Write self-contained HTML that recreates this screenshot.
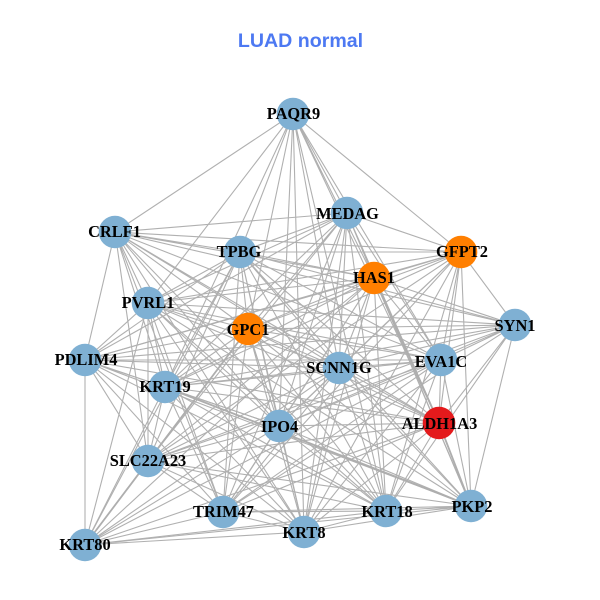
<!DOCTYPE html>
<html><head><meta charset="utf-8"><style>
html,body{margin:0;padding:0;background:#fff}
svg{display:block}
.l{font-family:"Liberation Serif",serif;font-weight:bold;font-size:16.4px;fill:#000;text-anchor:middle}
</style></head><body>
<svg width="600" height="600" viewBox="0 0 600 600" xmlns="http://www.w3.org/2000/svg">
<rect width="600" height="600" fill="#fff"/>
<text x="300.5" y="47" style="font-family:'Liberation Sans',sans-serif;font-weight:bold;font-size:19.6px;fill:#4d79f2;text-anchor:middle">LUAD normal</text>
<g fill="none" stroke="#b0b0b0" stroke-width="1.1">
<path d="M293 114L347 213M293 114L115 232M293 114L240 252M293 114L461 252M293 114L374 278M293 114L148 303M293 114L248 329M293 114L441 360M293 114L339 368M293 114L165 387M293 114L439 423M293 114L279 426M293 114L386 511M293 114L304 532"/>
<path d="M347 213L115 232M347 213L240 252M347 213L461 252M347 213L374 278M347 213L148 303M347 213L248 329M347 213L85 360M347 213L441 360M347 213L339 368M347 213L165 387M347 213L439 423M347 213L279 426M347 213L148 461M347 213L223 512M347 213L386 511M347 213L304 532M347 213L471 506"/>
<path d="M115 232L240 252M115 232L461 252M115 232L374 278M115 232L148 303M115 232L515 325M115 232L248 329M115 232L85 360M115 232L441 360M115 232L339 368M115 232L165 387M115 232L439 423M115 232L279 426M115 232L148 461M115 232L223 512M115 232L386 511M115 232L304 532"/>
<path d="M240 252L461 252M240 252L374 278M240 252L148 303M240 252L515 325M240 252L248 329M240 252L85 360M240 252L441 360M240 252L339 368M240 252L165 387M240 252L439 423M240 252L279 426M240 252L148 461M240 252L471 506M240 252L223 512M240 252L386 511M240 252L304 532M240 252L85 545"/>
<path d="M461 252L374 278M461 252L148 303M461 252L515 325M461 252L248 329M461 252L85 360M461 252L441 360M461 252L339 368M461 252L165 387M461 252L439 423M461 252L279 426M461 252L148 461M461 252L471 506M461 252L223 512M461 252L386 511M461 252L304 532"/>
<path d="M374 278L148 303M374 278L515 325M374 278L248 329M374 278L85 360M374 278L441 360M374 278L339 368M374 278L165 387M374 278L279 426M374 278L148 461M374 278L471 506M374 278L223 512M374 278L386 511M374 278L304 532M374 278L85 545"/>
<path d="M148 303L515 325M148 303L248 329M148 303L85 360M148 303L441 360M148 303L339 368M148 303L165 387M148 303L439 423M148 303L279 426M148 303L148 461M148 303L471 506M148 303L223 512M148 303L386 511M148 303L304 532M148 303L85 545"/>
<path d="M515 325L248 329M515 325L85 360M515 325L441 360M515 325L339 368M515 325L165 387M515 325L439 423M515 325L279 426M515 325L148 461M515 325L471 506M515 325L223 512M515 325L386 511"/>
<path d="M248 329L85 360M248 329L441 360M248 329L339 368M248 329L165 387M248 329L439 423M248 329L279 426M248 329L148 461M248 329L471 506M248 329L223 512M248 329L386 511M248 329L304 532"/>
<path d="M85 360L441 360M85 360L339 368M85 360L165 387M85 360L439 423M85 360L279 426M85 360L148 461M85 360L471 506M85 360L223 512M85 360L386 511M85 360L304 532M85 360L85 545"/>
<path d="M441 360L339 368M441 360L165 387M441 360L439 423M441 360L279 426M441 360L148 461M441 360L471 506M441 360L223 512M441 360L386 511M441 360L304 532M441 360L85 545"/>
<path d="M339 368L165 387M339 368L439 423M339 368L279 426M339 368L148 461M339 368L471 506M339 368L223 512M339 368L386 511M339 368L304 532M339 368L85 545"/>
<path d="M165 387L439 423M165 387L279 426M165 387L148 461M165 387L223 512M165 387L386 511M165 387L304 532M165 387L85 545"/>
<path d="M439 423L279 426M439 423L148 461M439 423L223 512M439 423L386 511M439 423L304 532M439 423L85 545"/>
<path d="M279 426L148 461M279 426L471 506M279 426L223 512M279 426L386 511M279 426L304 532M279 426L85 545"/>
<path d="M148 461L471 506M148 461L223 512M148 461L386 511M148 461L304 532M148 461L85 545"/>
<path d="M471 506L223 512M471 506L386 511M471 506L304 532M471 506L85 545"/>
<path d="M223 512L386 511M223 512L304 532M223 512L85 545M386 511L304 532M386 511L85 545M304 532L85 545"/>
</g>
<g fill="none" stroke="#aeaeae" stroke-width="1.8">
<path d="M374 278L439 423M439 423L471 506M248 329L85 545M165 387L471 506"/>
</g>
<g fill="#7fb0d3">
<circle cx="293" cy="114" r="16.300"/><circle cx="347" cy="213" r="16.300"/><circle cx="115" cy="232" r="16.300"/><circle cx="240" cy="252" r="16.300"/><circle cx="148" cy="303" r="16.300"/><circle cx="515" cy="325" r="16.300"/><circle cx="85" cy="360" r="16.300"/><circle cx="441" cy="360" r="16.300"/><circle cx="339" cy="368" r="16.300"/><circle cx="165" cy="387" r="16.300"/><circle cx="279" cy="426" r="16.300"/><circle cx="148" cy="461" r="16.300"/><circle cx="471" cy="506" r="16.300"/><circle cx="223" cy="512" r="16.300"/><circle cx="386" cy="511" r="16.300"/><circle cx="304" cy="532" r="16.300"/><circle cx="85" cy="545" r="16.300"/>
</g>
<g fill="#ff7f00"><circle cx="461" cy="252" r="16.300"/><circle cx="374" cy="278" r="16.300"/><circle cx="248" cy="329" r="16.300"/></g>
<circle cx="439" cy="423" r="16.300" fill="#e41a1c"/>
<text class="l" x="293.500" y="119">PAQR9</text>
<text class="l" x="347.500" y="219">MEDAG</text>
<text class="l" x="114.500" y="237">CRLF1</text>
<text class="l" x="239" y="257">TPBG</text>
<text class="l" x="462" y="257">GFPT2</text>
<text class="l" x="374" y="283">HAS1</text>
<text class="l" x="148" y="308">PVRL1</text>
<text class="l" x="515" y="331">SYN1</text>
<text class="l" x="248" y="335">GPC1</text>
<text class="l" x="86" y="365">PDLIM4</text>
<text class="l" x="441" y="367">EVA1C</text>
<text class="l" x="339" y="373">SCNN1G</text>
<text class="l" x="165" y="392">KRT19</text>
<text class="l" x="439.500" y="429">ALDH1A3</text>
<text class="l" x="279.500" y="432">IPO4</text>
<text class="l" x="148" y="466">SLC22A23</text>
<text class="l" x="472" y="512">PKP2</text>
<text class="l" x="223.500" y="517">TRIM47</text>
<text class="l" x="387" y="517">KRT18</text>
<text class="l" x="304" y="538">KRT8</text>
<text class="l" x="85" y="550">KRT80</text>
</svg>
</body></html>
